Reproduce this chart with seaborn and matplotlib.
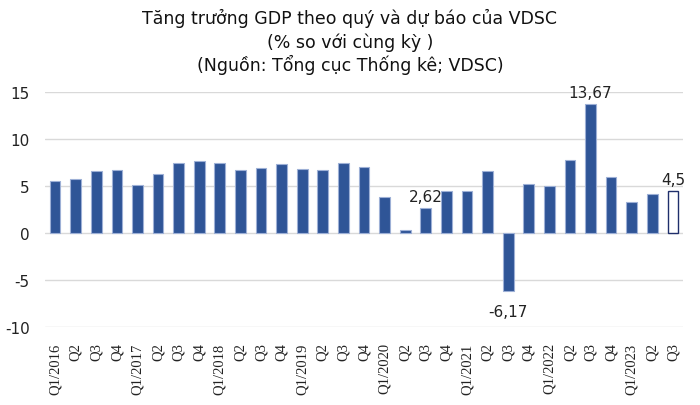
import matplotlib
matplotlib.use("Agg")
import matplotlib.pyplot as plt
import seaborn as sns
import pandas as pd

quarters = ["Q1/2016", "Q2", "Q3", "Q4",
            "Q1/2017", "Q2", "Q3", "Q4",
            "Q1/2018", "Q2", "Q3", "Q4",
            "Q1/2019", "Q2", "Q3", "Q4",
            "Q1/2020", "Q2", "Q3", "Q4",
            "Q1/2021", "Q2", "Q3", "Q4",
            "Q1/2022", "Q2", "Q3", "Q4",
            "Q1/2023", "Q2", "Q3"]
growth = [5.48, 5.78, 6.56, 6.68,
          5.15, 6.28, 7.46, 7.65,
          7.45, 6.73, 6.88, 7.31,
          6.82, 6.73, 7.48, 6.97,
          3.82, 0.36, 2.62, 4.48,
          4.48, 6.61, -6.17, 5.22,
          5.05, 7.72, 13.67, 5.92,
          3.32, 4.14, 4.5]
labels = {18: "2,62", 22: "-6,17", 26: "13,67", 30: "4,5"}
yticks = [-10, -5, 0, 5, 10, 15]

df = pd.DataFrame({"pos": [str(i) for i in range(len(growth))], "value": growth})

sns.set_style("white")
fig = plt.figure(figsize=(7.0, 4.06), dpi=100)
ax = fig.add_axes([0.064, 0.192, 0.912, 0.579])

navy = "#2F5597"
sns.barplot(data=df, x="pos", y="value", color=navy, width=0.52, ax=ax,
            saturation=1, edgecolor="#9DB0D6", linewidth=0.8, zorder=3)
patches = ax.patches
last = patches[-1]
last.set_facecolor("white")
last.set_edgecolor("#1F2F6B")
last.set_linewidth(1.0)

for i, t in labels.items():
    v = growth[i]
    if v >= 0:
        ax.annotate(t, (i, v), xytext=(0, 3), textcoords="offset points",
                    ha="center", va="bottom", fontsize=11, color="#222222")
    else:
        ax.annotate(t, (i, v), xytext=(0, -9), textcoords="offset points",
                    ha="center", va="top", fontsize=11, color="#222222")

ax.set_ylim(-10, 15)
ax.set_yticks(yticks)
ax.set_yticklabels([str(y) for y in yticks], fontsize=11, color="#222222")
ax.set_xlim(-0.5, len(growth) - 0.5)
ax.set_xticks(range(len(quarters)))
ax.set_xticklabels(quarters, rotation=90, fontsize=10.5, family="Liberation Serif",
                   color="#222222")
ax.tick_params(axis="both", length=0)
ax.tick_params(axis="x", pad=11)
ax.tick_params(axis="y", pad=11)
ax.grid(axis="y", color="#D9D9D9", linewidth=1, zorder=0)
ax.set_axisbelow(True)
for s in ax.spines.values():
    s.set_visible(False)
ax.set_xlabel("")
ax.set_ylabel("")

fig.text(0.5, 0.955, "Tăng trưởng GDP theo quý và dự báo của VDSC", ha="center",
         va="center", fontsize=12.5, color="#111111")
fig.text(0.5, 0.895, "(% so với cùng kỳ )", ha="center", va="center",
         fontsize=12.5, color="#111111")
fig.text(0.5, 0.84, "(Nguồn: Tổng cục Thống kê; VDSC)", ha="center", va="center",
         fontsize=12.5, color="#111111")

fig.savefig("out.png", dpi=100, facecolor="white")
